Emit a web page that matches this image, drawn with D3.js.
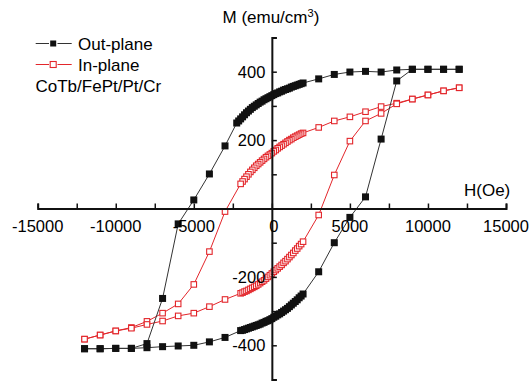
<!DOCTYPE html>
<html>
<head>
<meta charset="utf-8">
<script src="https://cdnjs.cloudflare.com/ajax/libs/d3/7.8.5/d3.min.js"></script>
<style>
  body { margin: 0; background: #fff; }
  svg { display: block; font-family: 'Liberation Sans', Arial, sans-serif; }
</style>
</head>
<body>
<div id="chart"></div>
<script>

// field values (Oe) and magnetisation (emu/cm3), read off the loop
// out-plane, field going down
var outDownH = [12000, 11000, 10000, 9000, 8000, 7000, 6000, 5000, 4000, 3000,
  2000, 1875, 1750, 1625, 1500, 1375, 1250, 1125, 1000, 875, 750, 625, 500, 375, 250, 125, 0,
  -125, -250, -375, -500, -625, -750, -875, -1000, -1125, -1250, -1375, -1500, -1625, -1750, -1875, -2000, -2125, -2250,
  -3000, -4000, -5000, -6000, -7000, -8000, -9000, -10000, -11000, -12000]
var outDownM = [407, 407, 407, 407, 405, 399, 401, 399, 392, 379,
  367, 365, 363, 361, 359, 357, 355, 352, 350, 348, 346, 343, 341, 338, 336, 333, 330,
  327, 324, 321, 318, 314, 311, 307, 303, 299, 295, 290, 285, 280, 274, 268, 262, 256, 250,
  183, 101, 25, -45, -263, -395, -409, -409, -410, -410]

// out-plane, field going up
var outUpH = [-12000, -11000, -10000, -9000, -8000, -7000, -6000, -5000, -4000, -3000,
  -2000, -1875, -1750, -1625, -1500, -1375, -1250, -1125, -1000, -875, -750, -625, -500, -375, -250, -125, 0,
  125, 250, 375, 500, 625, 750, 875, 1000, 1125, 1250, 1375, 1500, 1625, 1750, 1875, 2000,
  3000, 4000, 5000, 6000, 7000, 8000, 9000, 10000, 11000, 12000]
var outUpM = [-410, -410, -409, -409, -407, -404, -402, -400, -390, -377,
  -357, -356, -354, -352, -350, -348, -346, -344, -342, -340, -338, -335, -333, -330, -328, -325, -322,
  -318, -315, -311, -308, -304, -300, -296, -292, -287, -282, -277, -272, -267, -261, -256, -250,
  -185, -100, -26, 34, 203, 373, 407, 407, 407, 407]

// in-plane, field going down
var inDownH = [12000, 11000, 10000, 9000, 8000, 7000, 6000, 5000, 4000, 3000,
  2000, 1875, 1750, 1625, 1500, 1375, 1250, 1125, 1000, 875, 750, 625, 500, 375, 250, 125, 0,
  -125, -250, -375, -500, -625, -750, -875, -1000, -1125, -1250, -1375, -1500, -1625, -1750, -1875, -2000,
  -3000, -4000, -5000, -6000, -7000, -8000, -9000, -10000, -11000, -12000]
var inDownM = [353, 344, 332, 320, 308, 298, 283, 268, 256, 237,
  221, 219, 216, 213, 210, 207, 203, 200, 196, 192, 188, 184, 180, 176, 171, 167, 162,
  158, 154, 150, 145, 140, 135, 130, 125, 119, 113, 107, 100, 93, 86, 79, 72,
  -9, -126, -222, -279, -306, -330, -348, -358, -370, -382]

// in-plane, field going up
var inUpH = [-12000, -11000, -10000, -9000, -8000, -7000, -6000, -5000, -4000, -3000,
  -2000, -1875, -1750, -1625, -1500, -1375, -1250, -1125, -1000, -875, -750, -625, -500, -375, -250, -125, 0,
  125, 250, 375, 500, 625, 750, 875, 1000, 1125, 1250, 1375, 1500, 1625, 1750, 1875, 2000,
  3000, 4000, 5000, 6000, 7000, 8000, 9000, 10000, 11000, 12000]
var inUpM = [-382, -370, -358, -350, -339, -329, -314, -306, -287, -266,
  -248, -246, -243, -241, -238, -235, -232, -229, -226, -222, -218, -214, -210, -205, -200, -195, -190,
  -185, -180, -175, -170, -165, -159, -154, -148, -142, -136, -130, -123, -117, -110, -104, -97,
  -19, 98, 197, 256, 278, 306, 320, 332, 344, 353]

// axis ticks and labels
var xTicks = [-15000, -12500, -10000, -7500, -5000, -2500, 0, 2500, 5000, 7500, 10000, 12500, 15000]
var xLabels = [-15000, -10000, -5000, 0, 5000, 10000, 15000]
var yTicks = [-500, -400, -300, -200, -100, 0, 100, 200, 300, 400, 500]
var yLabels = [-400, -200, 200, 400]

var seriesNames = ['Out-plane', 'In-plane']
var sampleName = 'CoTb/FePt/Pt/Cr'

var w = 530
var h = 382
var black = '#111'
var red = '#e3262b'

var svg = d3.select('#chart')
  .append('svg')
  .attr('width', w)
  .attr('height', h)

// scales
var x = d3.scaleLinear()
  .domain([-15000, 15000])
  .range([37.7, 506])

var y = d3.scaleLinear()
  .domain([-500, 500])
  .range([379.5, 37.5])

function zipped(hs, ms) {
  return hs.map(function(d, i) { return [d, ms[i]] })
}

var line = d3.line()
  .x(function(d) { return x(d[0]) })
  .y(function(d) { return y(d[1]) })

var branches = [
  { pts: zipped(inDownH, inDownM), kind: 'in' },
  { pts: zipped(inUpH, inUpM), kind: 'in' },
  { pts: zipped(outDownH, outDownM), kind: 'out' },
  { pts: zipped(outUpH, outUpM), kind: 'out' }
]

// connecting lines
svg.selectAll('.branch')
  .data(branches)
  .enter().append('path')
  .attr('class', 'branch')
  .attr('d', function(d) { return line(d.pts) })
  .attr('fill', 'none')
  .attr('stroke', function(d) { return d.kind == 'in' ? red : '#333' })
  .attr('stroke-width', 1)

// markers
branches.forEach(function(b) {
  var size = b.kind == 'in' ? 5.5 : 7
  svg.append('g').selectAll('rect')
    .data(b.pts)
    .enter().append('rect')
    .attr('x', function(d) { return x(d[0]) - size / 2 })
    .attr('y', function(d) { return y(d[1]) - size / 2 })
    .attr('width', size)
    .attr('height', size)
    .attr('fill', b.kind == 'in' ? '#fff' : black)
    .attr('stroke', b.kind == 'in' ? red : 'none')
    .attr('stroke-width', 1.1)
})

// x axis, ticks pointing up
var xAxis = svg.append('g')
  .attr('transform', 'translate(0,' + y(0) + ')')
  .call(d3.axisBottom(x)
    .tickValues(xTicks)
    .tickSizeInner(-5)
    .tickSizeOuter(-5)
    .tickFormat(''))
xAxis.select('.domain').attr('stroke', black).attr('stroke-width', 2)
xAxis.selectAll('.tick line').attr('stroke', black).attr('stroke-width', 1.5)

// y axis, ticks pointing right
var yAxis = svg.append('g')
  .attr('transform', 'translate(' + x(0) + ',0)')
  .call(d3.axisRight(y)
    .tickValues(yTicks)
    .tickSizeInner(5)
    .tickSizeOuter(5)
    .tickFormat(''))
yAxis.select('.domain').attr('stroke', black).attr('stroke-width', 2)
yAxis.selectAll('.tick line').attr('stroke', black).attr('stroke-width', 1.5)

// tick labels
svg.selectAll('.xlabel')
  .data(xLabels)
  .enter().append('text')
  .attr('class', 'xlabel')
  .attr('x', function(d) { return x(d) + (d == 0 ? 2 : 0) })
  .attr('y', y(0) + 23)
  .attr('text-anchor', 'middle')
  .style('font-size', '16.5px')
  .text(function(d) { return d })

svg.selectAll('.ylabel')
  .data(yLabels)
  .enter().append('text')
  .attr('class', 'ylabel')
  .attr('x', x(0) - 6.5)
  .attr('y', function(d) { return y(d) })
  .attr('dy', '0.36em')
  .attr('text-anchor', 'end')
  .style('font-size', '16.5px')
  .text(function(d) { return d })

// axis titles
var title = svg.append('text')
  .attr('x', 222.5)
  .attr('y', 23)
  .style('font-size', '17px')
title.append('tspan').text('M (emu/cm')
title.append('tspan').attr('dy', -6).style('font-size', '11px').text('3')
title.append('tspan').attr('dy', 6).text(')')

svg.append('text')
  .attr('x', 464)
  .attr('y', 196)
  .style('font-size', '17px')
  .text('H(Oe)')

// legend
var legend = svg.append('g')
seriesNames.forEach(function(name, i) {
  var ly = 43.5 + i * 21
  var col = i == 0 ? '#333' : red
  legend.append('line')
    .attr('x1', 35.7).attr('x2', 49)
    .attr('y1', ly).attr('y2', ly)
    .attr('stroke', col)
    .attr('stroke-width', 1)
  legend.append('line')
    .attr('x1', 57.5).attr('x2', 71.7)
    .attr('y1', ly).attr('y2', ly)
    .attr('stroke', col)
    .attr('stroke-width', 1)
  legend.append('rect')
    .attr('x', 53.2 - 3).attr('y', ly - 3)
    .attr('width', 6).attr('height', 6)
    .attr('fill', i == 0 ? black : '#fff')
    .attr('stroke', i == 0 ? 'none' : red)
    .attr('stroke-width', 1.1)
  legend.append('text')
    .attr('x', 78)
    .attr('y', ly + 6.3)
    .style('font-size', '17px')
    .text(name)
})
legend.append('text')
  .attr('x', 35.5)
  .attr('y', 91.5)
  .style('font-size', '17px')
  .text(sampleName)

</script>
</body>
</html>
